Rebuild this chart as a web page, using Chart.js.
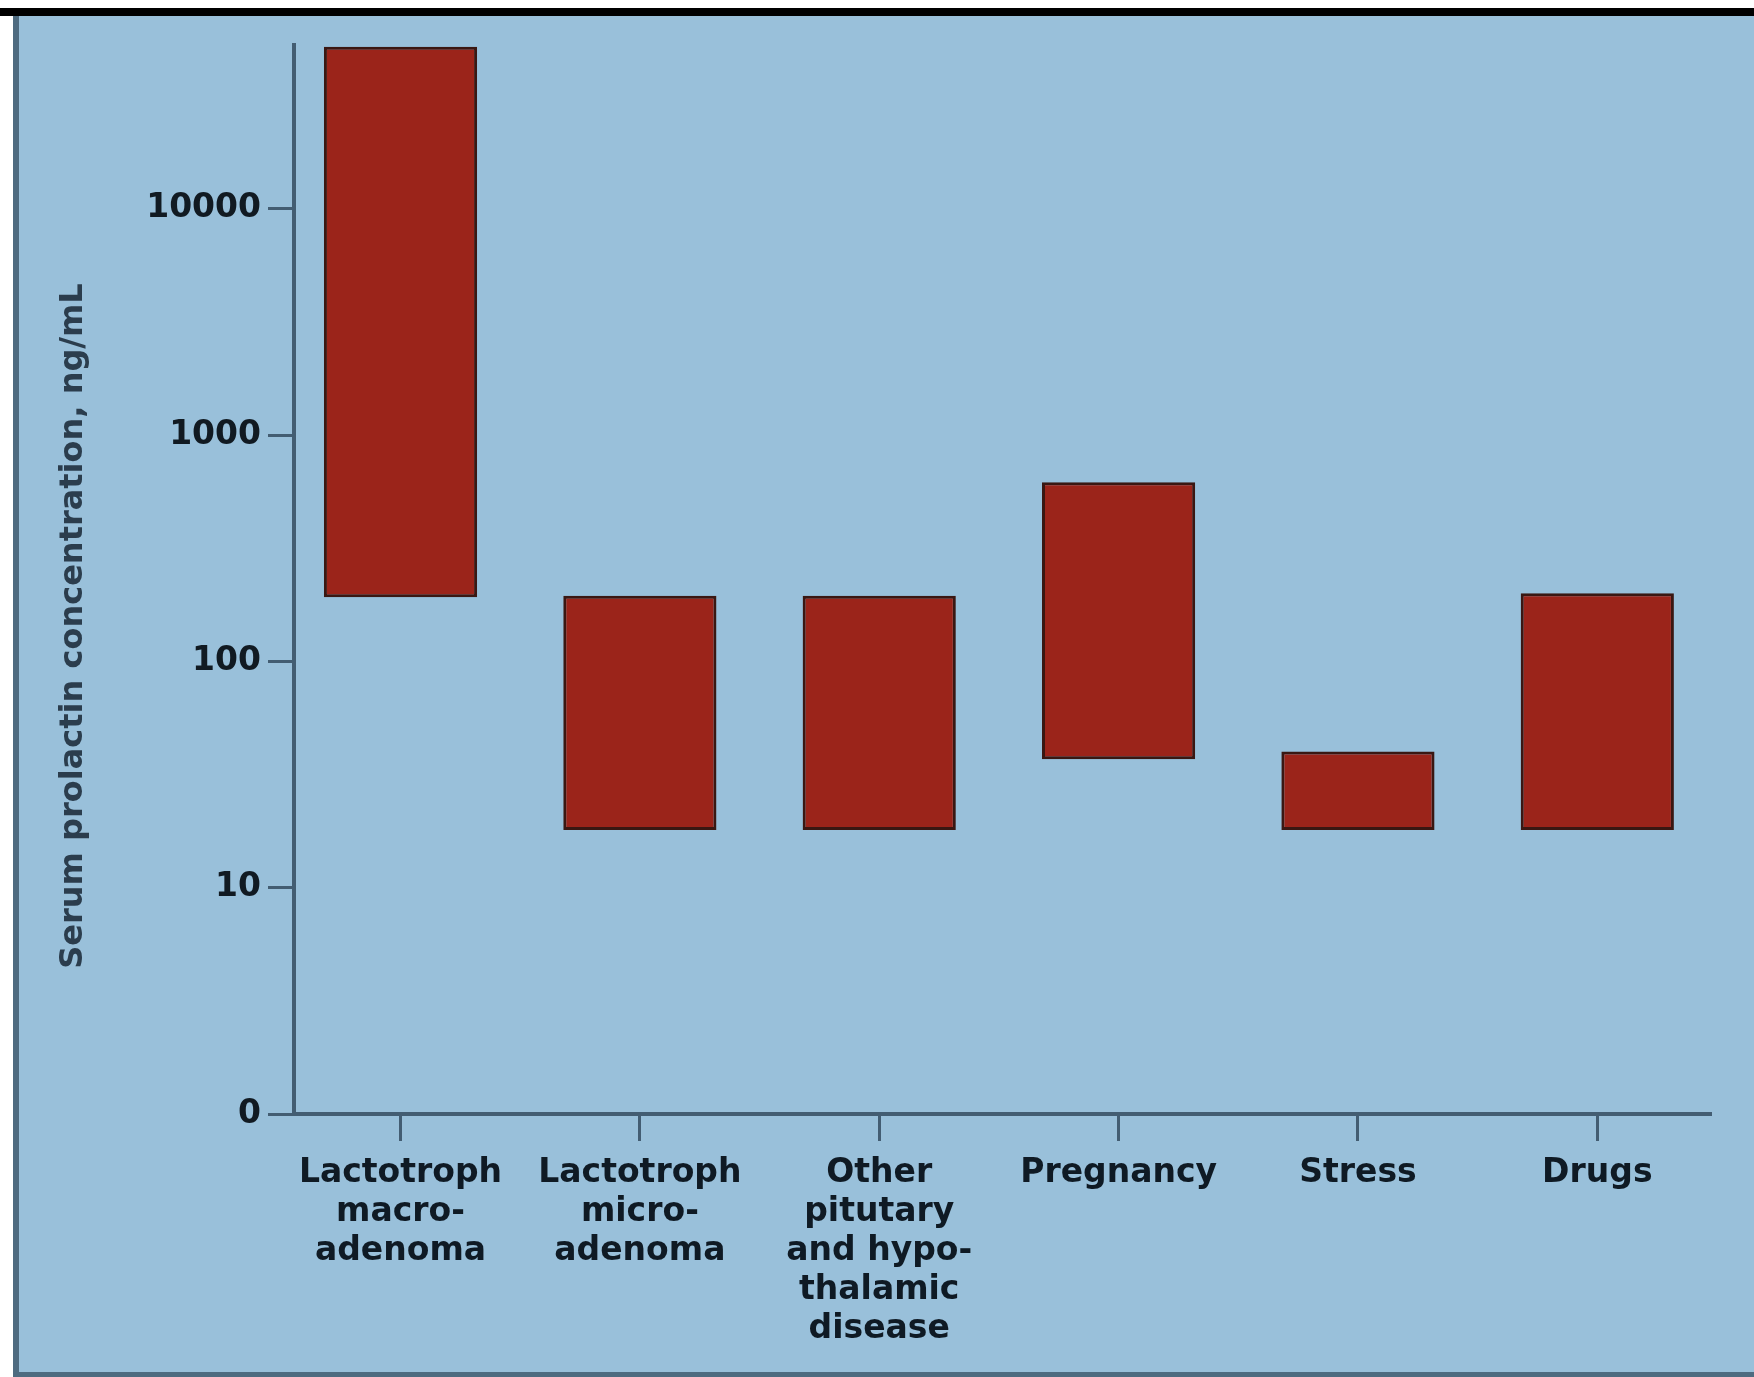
<!DOCTYPE html>
<html lang="en">
<head>
    <meta charset="UTF-8">
    <title>Serum prolactin concentration</title>
    <script src="https://cdn.jsdelivr.net/npm/chart.js@4.4.1/dist/chart.umd.min.js"></script>
    <style>
        body { margin: 0; background: #fff; }
        canvas { display: block; }
    </style>
</head>
<body>
    <canvas id="chart" width="1754" height="1377"></canvas>
    <script>

// categories (original spelling kept)
const categories = [
    ['Lactotroph', 'macro-', 'adenoma'],
    ['Lactotroph', 'micro-', 'adenoma'],
    ['Other', 'pitutary', 'and hypo-', 'thalamic', 'disease'],
    ['Pregnancy'],
    ['Stress'],
    ['Drugs']
];
// range of each bar, ng/mL
const lowValues = [192, 18, 18, 37, 18, 18];
const highValues = [52000, 195, 195, 620, 40, 200];
// y axis ticks (bottom of the axis is labelled 0)
const tickValues = [1, 10, 100, 1000, 10000];
const tickLabels = ['0', '10', '100', '1000', '10000'];
const axisTitle = 'Serum prolactin concentration, ng/mL';

const slate = '#435d72';
const fontFamily = '"DejaVu Sans", Verdana, sans-serif';

// frame and blue panel behind the chart
const panel = {
    id: 'panel',
    beforeDraw(chart) {
        const ctx = chart.ctx;
        ctx.save();
        ctx.fillStyle = '#ffffff';
        ctx.fillRect(0, 0, chart.width, chart.height);
        ctx.fillStyle = '#000000';
        ctx.fillRect(0, 8, chart.width, 8);
        ctx.fillStyle = '#4e6b80';
        ctx.fillRect(13, 16, 6, chart.height - 16);
        ctx.fillRect(13, chart.height - 5, chart.width - 13, 5);
        ctx.fillStyle = '#99c0da';
        ctx.fillRect(19, 16, chart.width - 19, chart.height - 21);
        ctx.restore();
    }
};

// y axis title, placed where the original has it
const yTitle = {
    id: 'yTitle',
    afterDraw(chart) {
        const ctx = chart.ctx;
        ctx.save();
        ctx.translate(74, 626);
        ctx.rotate(-Math.PI / 2);
        ctx.font = 'bold 32px ' + fontFamily;
        ctx.fillStyle = '#2b3d4d';
        ctx.textAlign = 'center';
        ctx.textBaseline = 'middle';
        ctx.fillText(axisTitle, 0, 0);
        ctx.restore();
    }
};

const ctx = document.getElementById('chart').getContext('2d');
const myChart = new Chart(ctx, {
    type: 'bar',
    data: {
        labels: categories,
        datasets: [{
            data: lowValues.map((v, i) => [v, highValues[i]]),
            backgroundColor: '#9b241a',
            borderColor: '#3a1712',
            borderWidth: 3,
            borderSkipped: false,
            categoryPercentage: 1,
            barPercentage: 0.64
        }]
    },
    options: {
        responsive: false,
        animation: false,
        layout: { padding: { top: 45, right: 43, left: 0, bottom: 0 } },
        plugins: {
            legend: { display: false },
            tooltip: { enabled: false }
        },
        scales: {
            x: {
                offset: true,
                afterFit: s => { s.height = 263; },
                // the original leaves a little less than half a category at each end
                afterBuildTicks: s => { s._startValue = -0.445; s._valueRange = 5.92; },
                grid: {
                    drawOnChartArea: false,
                    drawTicks: true,
                    tickLength: 27,
                    tickColor: slate,
                    tickWidth: 3,
                    offset: false
                },
                border: { display: true, color: slate, width: 4 },
                ticks: {
                    color: '#0f1a24',
                    padding: 13,
                    maxRotation: 0,
                    autoSkip: false,
                    font: { family: fontFamily, size: 33, weight: 'bold', lineHeight: 1.18 }
                }
            },
            y: {
                type: 'logarithmic',
                min: 1,
                max: 53000,
                afterFit: s => { s.width = 294; },
                afterBuildTicks: s => { s.ticks = tickValues.map(v => ({ value: v })); },
                grid: {
                    drawOnChartArea: false,
                    drawTicks: true,
                    tickLength: 26,
                    tickColor: slate,
                    tickWidth: 3
                },
                border: { display: true, color: slate, width: 4 },
                ticks: {
                    color: '#111a22',
                    padding: 7,
                    font: { family: fontFamily, size: 33, weight: 'bold' },
                    callback: (v, i) => tickLabels[i]
                }
            }
        }
    },
    plugins: [panel, yTitle]
});
    </script>
</body>
</html>
